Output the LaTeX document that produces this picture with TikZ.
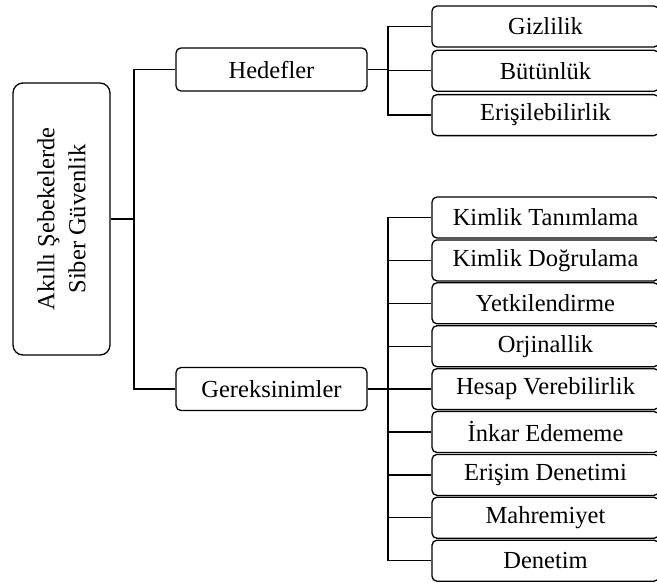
\documentclass[tikz,border=0pt]{standalone}
\usepackage{fontspec}
\setmainfont{Liberation Serif}
\usetikzlibrary{positioning}

\begin{document}
\begin{tikzpicture}[x=1pt,y=-1pt,line width=1.3pt,
    font=\fontsize{24.5}{31}\selectfont,
    kutu/.style={draw,rounded corners=5pt,minimum width=191pt,minimum height=43pt,inner sep=0pt},
    yaprak/.style={draw,rounded corners=5pt,minimum width=227pt,minimum height=41pt,inner sep=0pt}]
    \useasboundingbox (0,0) rectangle (657,582);
    % ana kutu
    \node[draw,rounded corners=10pt,rotate=90,minimum width=272pt,minimum height=97pt,align=center] (kok) at (61.5,219) {Akıllı Şebekelerde\\Siber Güvenlik};
    \node[kutu] (hedef) at (271.5,69.5) {Hedefler};
    \node[kutu] (gerek) at (271.5,389) {Gereksinimler};
    % hedefler
    \node[yaprak] (giz) at (545.5,26.5) {Gizlilik};
    \node[yaprak,below=2pt of giz] (but) {Bütünlük};
    \node[yaprak,below=2pt of but] (eris) {Erişilebilirlik};
    % gereksinimler
    \foreach \ad [count=\i] in {Kimlik Tanımlama,Kimlik Doğrulama,Yetkilendirme,Orjinallik,Hesap Verebilirlik,İnkar Edememe,Erişim Denetimi,Mahremiyet,Denetim}
      \node[yaprak] (g\i) at (545.5,174.6+42.9*\i) {\ad};
    % baglantilar
    \coordinate (kj) at (134,219);
    \coordinate (hj) at (388,69.5);
    \coordinate (gj) at (388,389);
    \draw (kok.south) -- (kj) |- (hedef.west);
    \draw (kj) |- (gerek.west);
    \foreach \n in {giz,but,eris} \draw (hedef.east) -- (hj) |- (\n.west);
    \foreach \i in {1,...,9} \draw (gerek.east) -- (gj) |- (g\i.west);
  \end{tikzpicture}
\end{document}
